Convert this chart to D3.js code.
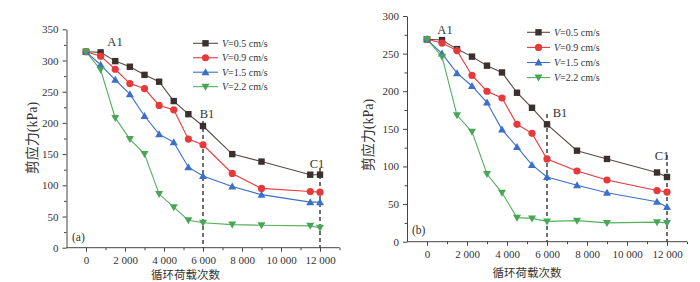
<!DOCTYPE html>
<html><head><meta charset="utf-8">
<script src="https://cdn.jsdelivr.net/npm/d3@7/dist/d3.min.js"></script>
<style>
body{margin:0;background:#fff;}
svg{display:block;}
text{font-family:"Liberation Serif","Times New Roman",serif;fill:#333;}
</style></head>
<body>
<svg id="c" width="700" height="282"></svg>
<script>
const cycles = [0, 750, 1500, 2250, 3000, 3750, 4500, 5250, 6000, 7500, 9000, 11500, 12000];
const seriesNames = ["V=0.5 cm/s", "V=0.9 cm/s", "V=1.5 cm/s", "V=2.2 cm/s"];
const speedLabels = ["0.5 cm/s", "0.9 cm/s", "1.5 cm/s", "2.2 cm/s"];
const xTicks = [0, 2000, 4000, 6000, 8000, 10000, 12000];
// Panel (a)
const aV05 = [314, 313, 299, 290, 277, 266, 235, 214, 195, 150, 138, 117, 117];
const aV09 = [314, 307, 286, 263, 255, 228, 221, 174, 165, 119, 95, 90, 89];
const aV15 = [314, 293, 269, 246, 211, 182, 169, 129, 115, 98, 85, 73, 73];
const aV22 = [314, 285, 208, 174, 150, 86, 65, 44, 40, 37, 36, 35, 32];
const aYTicks = [0, 50, 100, 150, 200, 250, 300, 350];
// Panel (b)
const bV05 = [269, 268, 256, 246, 234, 225, 198, 178, 156, 121, 110, 92, 86];
const bV09 = [269, 264, 254, 221, 200, 191, 156, 144, 110, 94, 82, 68, 66];
const bV15 = [269, 250, 224, 207, 185, 149, 126, 102, 86, 75, 65, 53, 46];
const bV22 = [269, 246, 168, 146, 90, 65, 32, 31, 27, 28, 25, 26, 25];
const bYTicks = [0, 50, 100, 150, 200, 250, 300];

const colors = ["#5a4a46", "#e8393a", "#3b6fc8", "#55b05f"];
const markerColors = ["#3a302d", "#e8393a", "#3b6fc8", "#4aa657"];
const shapes = ["square", "circle", "tri", "tridown"];

const svg = d3.select("#c");
const fmt = d => d3.format(",")(d).replace(/,/g, " ");

function marker(g, shape, x, y, c) {
  if (shape === "square") g.append("rect").attr("x", x-3.2).attr("y", y-3.2).attr("width", 6.4).attr("height", 6.4).attr("fill", c);
  else if (shape === "circle") g.append("circle").attr("cx", x).attr("cy", y).attr("r", 3.6).attr("fill", c);
  else if (shape === "tri") g.append("path").attr("d", `M${x},${y-4}L${x+4},${y+3}L${x-4},${y+3}Z`).attr("fill", c);
  else g.append("path").attr("d", `M${x},${y+4}L${x+4},${y-3}L${x-4},${y-3}Z`).attr("fill", c);
}

function panel(o) {
  const g = svg.append("g");
  const x = d3.scaleLinear().domain([-1000, 13000]).range(o.xr);
  const y = d3.scaleLinear().domain([0, o.ymax]).range(o.yr);
  const axisColor = "#444";
  // x axis
  const xa = g.append("g").attr("transform", `translate(0,${o.yr[0]})`)
    .call(d3.axisBottom(x).tickValues(xTicks).tickFormat(fmt).tickSize(4).tickSizeOuter(0));
  g.append("g").attr("transform", `translate(0,${o.yr[0]})`)
    .call(d3.axisBottom(x).tickValues(d3.range(1000, 13001, 2000)).tickFormat("").tickSize(2.5).tickSizeOuter(0))
    .select(".domain").remove();
  xa.select(".domain").attr("stroke", axisColor).attr("d", `M${o.xr[0]},0H${o.xr[1]}`);
  xa.selectAll("text").attr("font-size", 11).attr("dy", o.xdy).attr("fill", "#333")
    .style("font-family", "'Liberation Serif',serif");
  // y axis
  const ya = g.append("g").attr("transform", `translate(${o.xr[0]},0)`)
    .call(d3.axisLeft(y).tickValues(o.yTicks).tickSize(4).tickSizeOuter(0));
  g.append("g").attr("transform", `translate(${o.xr[0]},0)`)
    .call(d3.axisLeft(y).tickValues(d3.range(25, o.ymax, 50)).tickFormat("").tickSize(2.5).tickSizeOuter(0))
    .select(".domain").remove();
  ya.select(".domain").attr("stroke", axisColor);
  g.selectAll("line").attr("stroke", axisColor);
  ya.selectAll("text").attr("font-size", 11).attr("fill", "#333").attr("dx", "-0.1em")
    .style("font-family", "'Liberation Serif',serif");
  // dashed lines
  [[6000, o.dash1], [12000, o.dash2]].forEach(([xv, top]) => {
    g.append("line").attr("x1", x(xv)).attr("x2", x(xv)).attr("y1", top).attr("y2", o.yr[0])
      .attr("stroke", "#333").attr("stroke-width", 1.4).attr("stroke-dasharray", "4,3");
  });
  // series
  const line = d3.line().x((d, i) => x(cycles[i])).y(d => y(d));
  o.data.forEach((arr, si) => {
    g.append("path").attr("d", line(arr)).attr("fill", "none").attr("stroke", colors[si]).attr("stroke-width", 1.1);
  });
  o.data.forEach((arr, si) => {
    arr.forEach((v, i) => marker(g, shapes[si], x(cycles[i]), y(v), markerColors[si]));
  });
  // labels A1 B1 C1
  o.ann.forEach(a => g.append("text").attr("x", a[1]).attr("y", a[2]).attr("text-anchor", "middle")
    .attr("font-size", 12.5).text(a[0]));
  g.append("text").attr("x", o.tag[1]).attr("y", o.tag[2]).attr("font-size", 11.5).text(o.tag[0]);
  // axis titles
  g.append("text").attr("x", x(o.xtC)).attr("y", o.xtY).attr("text-anchor", "middle")
    .attr("font-size", 11.5).style("font-family", "'Noto Sans CJK SC',sans-serif").attr("fill", "#555").text("循环荷载次数");
  const yt = g.append("text").attr("transform", `translate(${o.ytX},${o.ytC}) rotate(-90)`)
    .attr("text-anchor", "middle").attr("font-size", 14).attr("fill", "#444");
  yt.append("tspan").style("font-family", "'Noto Sans CJK SC',sans-serif").text("剪应力");
  yt.append("tspan").text("(kPa)");
  // legend
  const lg = g.append("g");
  seriesNames.forEach((n, i) => {
    const ly = o.leg[1] + i * o.leg[3];
    lg.append("line").attr("x1", o.leg[0]).attr("x2", o.leg[0] + o.leg[2]).attr("y1", ly).attr("y2", ly)
      .attr("stroke", colors[i]).attr("stroke-width", 1.1);
    marker(lg, shapes[i], o.leg[0] + o.leg[2] / 2, ly, markerColors[i]);
    const t = lg.append("text").attr("x", o.leg[0] + o.leg[2] + 4).attr("y", ly + 3.5).attr("font-size", 10);
    t.append("tspan").attr("font-style", "italic").text("V");
    t.append("tspan").text("=" + speedLabels[i]);
  });
}

panel({xr: [66.5, 339.5], yr: [247.7, 29.3], ymax: 350, yTicks: aYTicks,
  data: [aV05, aV09, aV15, aV22], dash1: 121, dash2: 168,
  ann: [["A1", 115, 45.5], ["B1", 207, 118], ["C1", 317, 167.5]], tag: ["(a)", 72, 240.5],
  xdy: "0.88em", xtC: 5100, xtY: 279, ytX: 37, ytC: 138, leg: [193, 43.3, 25, 14.45]});
panel({xr: [407, 687], yr: [241.7, 16], ymax: 300, yTicks: bYTicks,
  data: [bV05, bV09, bV15, bV22], dash1: 114, dash2: 155,
  ann: [["A1", 445, 33.5], ["B1", 560, 117], ["C1", 662, 160]], tag: ["(b)", 412, 234],
  xdy: "0.85em", xtC: 5000, xtY: 277, ytX: 373, ytC: 135, leg: [527, 32.3, 23, 15.1]});
</script>
</body></html>
